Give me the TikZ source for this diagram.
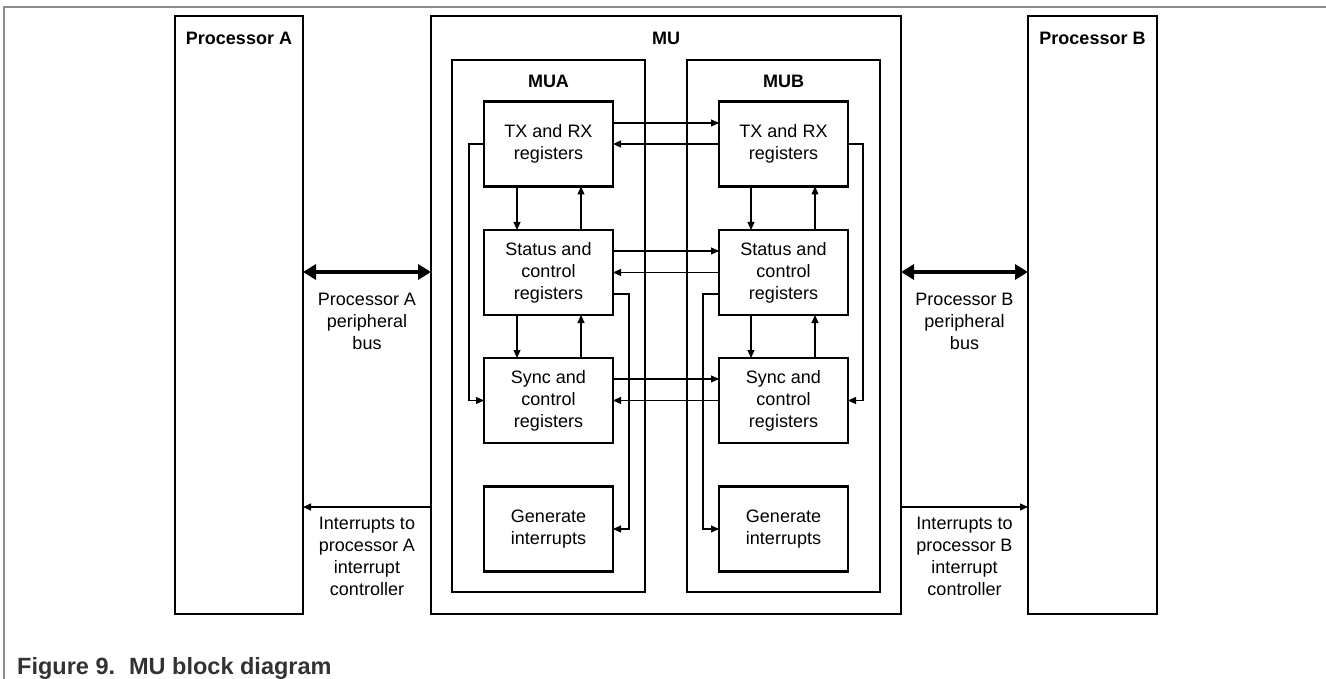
\documentclass[tikz,border=0pt]{standalone}
\usepackage{fontspec}
\setmainfont{Liberation Sans}
\usetikzlibrary{arrows.meta}
\begin{document}
\begin{tikzpicture}[x=1pt,y=-1pt,
  frame/.style={draw, line width=2.2pt, inner sep=0pt, outer sep=0pt},
  regbox/.style={frame, minimum width=129pt, minimum height=85pt,
    align=center, font=\fontsize{18}{22}\selectfont},
  title/.style={font=\fontsize{18}{22}\selectfont\bfseries, inner sep=0pt},
  note/.style={align=center, font=\fontsize{18}{22}\selectfont, inner sep=0pt},
  arr/.style={line width=1.1pt, -{Triangle[length=8pt,width=7pt]}},
  bus/.style={line width=4.5pt,
    {Triangle[length=13pt,width=15pt]}-{Triangle[length=13pt,width=15pt]}}
]
\useasboundingbox (0,0) rectangle (1326,679);

% page frame
\draw[black!45, line width=1.2pt] (4,679) -- (4,7) -- (1326,7);

% processors and the MU
\node[frame, minimum width=128pt, minimum height=598pt] (procA) at (239,315) {};
\node[frame, minimum width=129pt, minimum height=598pt] (procB) at (1092.5,315) {};
\node[frame, minimum width=470pt, minimum height=598pt] (mu) at (666,315) {};
\node[frame, minimum width=193pt, minimum height=532pt] (mua) at (548.5,326) {};
\node[frame, minimum width=193pt, minimum height=532pt] (mub) at (783.5,326) {};

\node[title] (tA) at (239,38) {Processor A};
\node[title] (tB) at (1092.5,38) {Processor B};
\node[title] (tMU) at (666,38) {MU};
\node[title] (tMUA) at (548.5,81) {MUA};
\node[title] (tMUB) at (783.5,81) {MUB};

% register blocks, side A
\node[regbox] (txa) at (548.5,144) {TX and RX\\registers};
\node[regbox] (sta) at (548.5,272.5) {Status and\\control\\registers};
\node[regbox] (sya) at (548.5,400.5) {Sync and\\control\\registers};
\node[regbox] (gea) at (548.5,529) {Generate\\interrupts};

% register blocks, side B
\node[regbox] (txb) at (783.5,144) {TX and RX\\registers};
\node[regbox] (stb) at (783.5,272.5) {Status and\\control\\registers};
\node[regbox] (syb) at (783.5,400.5) {Sync and\\control\\registers};
\node[regbox] (geb) at (783.5,529) {Generate\\interrupts};

% A <-> B exchanges
\draw[arr] ([yshift=21pt]txa.east) -- ([yshift=21pt]txb.west);
\draw[arr] (txb.west) -- (txa.east);
\draw[arr] ([yshift=21.5pt]sta.east) -- ([yshift=21.5pt]stb.west);
\draw[arr] (stb.west) -- (sta.east);
\draw[arr] ([yshift=21.5pt]sya.east) -- ([yshift=21.5pt]syb.west);
\draw[arr] (syb.west) -- (sya.east);

% vertical links inside MUA
\draw[arr] ([xshift=-31.5pt]txa.south) -- ([xshift=-31.5pt]sta.north);
\draw[arr] ([xshift=32.5pt]sta.north) -- ([xshift=32.5pt]txa.south);
\draw[arr] ([xshift=-31.5pt]sta.south) -- ([xshift=-31.5pt]sya.north);
\draw[arr] ([xshift=32.5pt]sya.north) -- ([xshift=32.5pt]sta.south);

% vertical links inside MUB
\draw[arr] ([xshift=-32.5pt]txb.south) -- ([xshift=-32.5pt]stb.north);
\draw[arr] ([xshift=31.5pt]stb.north) -- ([xshift=31.5pt]txb.south);
\draw[arr] ([xshift=-32.5pt]stb.south) -- ([xshift=-32.5pt]syb.north);
\draw[arr] ([xshift=31.5pt]syb.north) -- ([xshift=31.5pt]stb.south);

% side loops
\draw[arr] (txa.west) -- ++(-15,0) |- (sya.west);
\draw[arr] (txb.east) -- ++(15,0) |- (syb.east);
\draw[arr] ([yshift=-21.5pt]sta.east) -- ++(16,0) |- (gea.east);
\draw[arr] ([yshift=-21.5pt]stb.west) -- ++(-16,0) |- (geb.west);

% peripheral buses
\draw[bus] ([yshift=43pt]procA.east) -- ([yshift=43pt]mu.west);
\draw[bus] ([yshift=43pt]mu.east) -- ([yshift=43pt]procB.west);
\node[note] (busA) at (367,321) {Processor A\\peripheral\\bus};
\node[note] (busB) at (964.5,321) {Processor B\\peripheral\\bus};

% interrupt lines
\draw[arr] ([yshift=-192pt]mu.west) -- ([yshift=-192pt]procA.east);
\draw[arr] ([yshift=-192pt]mu.east) -- ([yshift=-192pt]procB.west);
\node[note] (irqA) at (367,556.5) {Interrupts to\\processor A\\interrupt\\controller};
\node[note] (irqB) at (964.5,556.5) {Interrupts to\\processor B\\interrupt\\controller};

% caption
\node[anchor=base west, inner sep=0pt, text=black!80,
  font=\fontsize{23.5}{27}\selectfont\bfseries] (cap) at (17,674.5)
  {Figure 9.\hspace*{14pt}MU block diagram};
\end{tikzpicture}
\end{document}
